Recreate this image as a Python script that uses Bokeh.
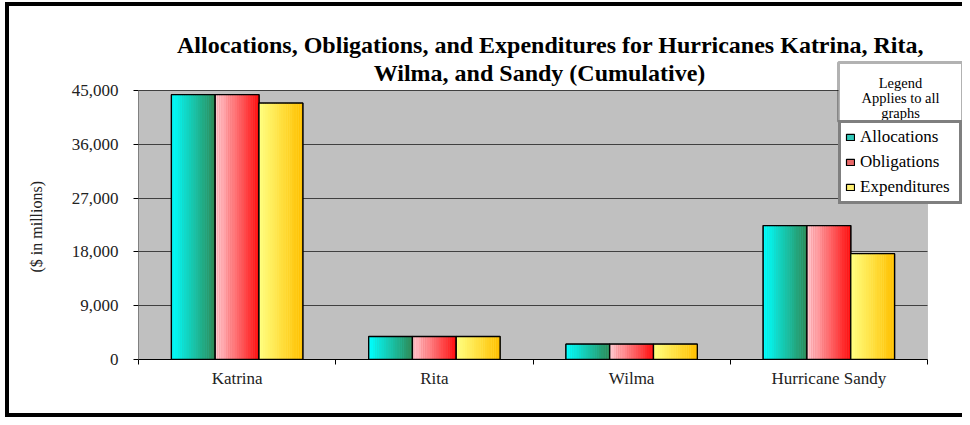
import numpy as np
from bokeh.plotting import figure
from bokeh.models import (Range1d, FixedTicker, NumeralTickFormatter, ColumnDataSource,
                          Label, BoxAnnotation, Legend, LegendItem, Grid, Title)
from bokeh.embed import file_html
from bokeh.resources import INLINE

# ---------------- data ----------------
categories = ["Katrina", "Rita", "Wilma", "Hurricane Sandy"]
allocations = [44300, 3850, 2560, 22400]
obligations = [44300, 3850, 2560, 22400]
expenditures = [42900, 3850, 2560, 17700]
series_names = ["Allocations", "Obligations", "Expenditures"]
y_ticks = [0, 9000, 18000, 27000, 36000, 45000]
title_lines = ["Allocations, Obligations, and Expenditures for Hurricanes Katrina, Rita,",
               "Wilma, and Sandy (Cumulative)"]
legend_header = ["Legend", "Applies to all", "graphs"]
y_label = "($ in millions)"

# ---------------- styles / layout ----------------
grad = {
    "Allocations": ("#00FFFF", "#2E8B57"),
    "Obligations": ("#FFC8CE", "#FF1010"),
    "Expenditures": ("#FFFF80", "#FFC000"),
}
swatch = {"Allocations": "#30C8B8", "Obligations": "#E86868", "Expenditures": "#FFF070"}
FONT = "Liberation Serif"
N_STRIPS = 20
BW = 0.222

W, H = 962, 417
# plot-area edges in canvas pixels
PL, PR, PT, PB = 138, 927, 90, 359
YMAX = 45000
NCAT = len(categories)


def dx(px):
    return (px - PL) / (PR - PL) * NCAT


def dy(py):
    return (PB - py) / (PB - PT) * YMAX


def hex2rgb(h):
    h = h.lstrip("#")
    return np.array([int(h[i:i + 2], 16) for i in (0, 2, 4)], dtype=float)


def interp(c0, c1, t):
    a, b = hex2rgb(c0), hex2rgb(c1)
    c = (a + (b - a) * t).round().astype(int)
    return "#%02x%02x%02x" % tuple(c)


p = figure(width=W, height=H, output_backend="svg", toolbar_location=None, title=None,
           x_range=Range1d(0, dx(W)), y_range=Range1d(0, dy(0)),
           min_border_left=PL, min_border_right=0, min_border_top=0, min_border_bottom=H - PB,
           background_fill_color=None, border_fill_color=None,
           outline_line_color=None)

# outer frame of the whole chart (left, top, bottom black rules)
p.styles = {
    "background": ("linear-gradient(#000,#000) 5px 2px / 4px 415px no-repeat, "
                   "linear-gradient(#000,#000) 5px 2px / 957px 4px no-repeat, "
                   "linear-gradient(#000,#000) 5px 413px / 957px 4px no-repeat, #fff"),
}

# grey plot area
p.add_layout(BoxAnnotation(left=0, right=NCAT, bottom=0, top=YMAX, level="image",
                           fill_color="#C0C0C0", fill_alpha=1,
                           line_color="#808080", line_width=1))

# grid lines limited to the plot area
p.xgrid.grid_line_color = None
if "cross_bounds" in Grid.properties():
    p.ygrid.ticker = FixedTicker(ticks=y_ticks)
    p.ygrid.cross_bounds = (0, NCAT)
    p.ygrid.grid_line_color = "#404040"
    p.ygrid.grid_line_width = 1
else:
    p.ygrid.grid_line_color = None
    p.segment(x0=[0] * len(y_ticks), x1=[NCAT] * len(y_ticks), y0=y_ticks, y1=y_ticks,
              line_color="#404040", line_width=1)

series_vals = [allocations, obligations, expenditures]
legend_items = []
for si, (name, vals) in enumerate(zip(series_names, series_vals)):
    off = (si - 1) * BW
    c0, c1 = grad[name]
    bx = [ci + 0.5 + off for ci in range(len(vals))]
    # base bar (legend swatch source), then the gradient, then the outline
    base = p.vbar(x=bx, top=vals, bottom=0, width=BW, fill_color=swatch[name],
                  line_color="black", line_width=1.2)
    xs, tops, cols = [], [], []
    for ci, v in enumerate(vals):
        for k in range(N_STRIPS):
            xs.append(ci + 0.5 + off - BW / 2 + (k + 0.5) * BW / N_STRIPS)
            tops.append(v)
            cols.append(interp(c0, c1, k / (N_STRIPS - 1)))
    src = ColumnDataSource(dict(x=xs, top=tops, color=cols))
    p.vbar(x="x", top="top", bottom=0, width=BW / N_STRIPS * 1.05, fill_color="color",
           line_color=None, source=src)
    p.vbar(x=bx, top=vals, bottom=0, width=BW, fill_color=None, line_color="black",
           line_width=1.3)
    legend_items.append(LegendItem(label=name, renderers=[base]))

# axes
p.xaxis.bounds = (0, NCAT)
p.xaxis.ticker = FixedTicker(ticks=[i + 0.5 for i in range(NCAT)],
                             minor_ticks=list(range(NCAT + 1)))
p.xaxis.major_label_overrides = {i + 0.5: c for i, c in enumerate(categories)}
p.xaxis.major_tick_out = 0
p.xaxis.major_tick_in = 0
p.xaxis.minor_tick_out = 5
p.xaxis.minor_tick_in = 0
p.xaxis.minor_tick_line_color = "black"
p.xaxis.axis_line_color = "black"
p.xaxis.major_label_text_font = FONT
p.xaxis.major_label_text_font_size = "17px"
p.xaxis.major_label_text_color = "#222222"
p.xaxis.major_label_standoff = 4

p.yaxis.bounds = (0, YMAX)
p.yaxis.ticker = FixedTicker(ticks=y_ticks)
p.yaxis.formatter = NumeralTickFormatter(format="0,0")
p.yaxis.major_tick_out = 5
p.yaxis.major_tick_in = 0
p.yaxis.minor_tick_line_color = None
p.yaxis.axis_line_color = "#808080"
p.yaxis.major_tick_line_color = "black"
p.yaxis.major_label_text_font = FONT
p.yaxis.major_label_text_font_size = "17px"
p.yaxis.major_label_text_color = "#222222"
p.yaxis.major_label_standoff = 15

# y-axis caption, placed beside the plot area's lower part
p.add_layout(Title(text=y_label, align="left", offset=PB - 272, standoff=47,
                   text_font=FONT, text_font_size="16px", text_font_style="normal",
                   text_color="#222222"), "left")

# title
for line, cx, base in zip(title_lines, [550, 539], [44, 72]):
    p.add_layout(Label(x=dx(cx), y=dy(base), text=line, text_align="center",
                       text_baseline="alphabetic", text_font=FONT, text_font_size="24px",
                       text_font_style="bold", text_color="black"))

legend = Legend(items=legend_items, location=(838 - PL, PB - 204),
                label_text_font=FONT, label_text_font_size="17px", label_text_color="black",
                label_height=19, label_width=95, label_standoff=5,
                glyph_width=10, glyph_height=8, spacing=5, padding=4, margin=0,
                border_line_color="black", border_line_width=3,
                background_fill_color="white", background_fill_alpha=1)
p.add_layout(legend)

# legend header box (drawn over the legend's top edge)
p.add_layout(BoxAnnotation(left=dx(838), right=dx(962), top=dy(62), bottom=dy(121),
                           fill_color="white", fill_alpha=1, line_color="black", line_width=3))
for line, base in zip(legend_header, [82.5, 97.5, 112.5]):
    p.add_layout(Label(x=dx(900), y=dy(base), text=line, text_align="center",
                       text_baseline="alphabetic", text_font=FONT, text_font_size="14.5px",
                       text_color="black"))

open("out.html", "w").write(file_html(p, INLINE))
